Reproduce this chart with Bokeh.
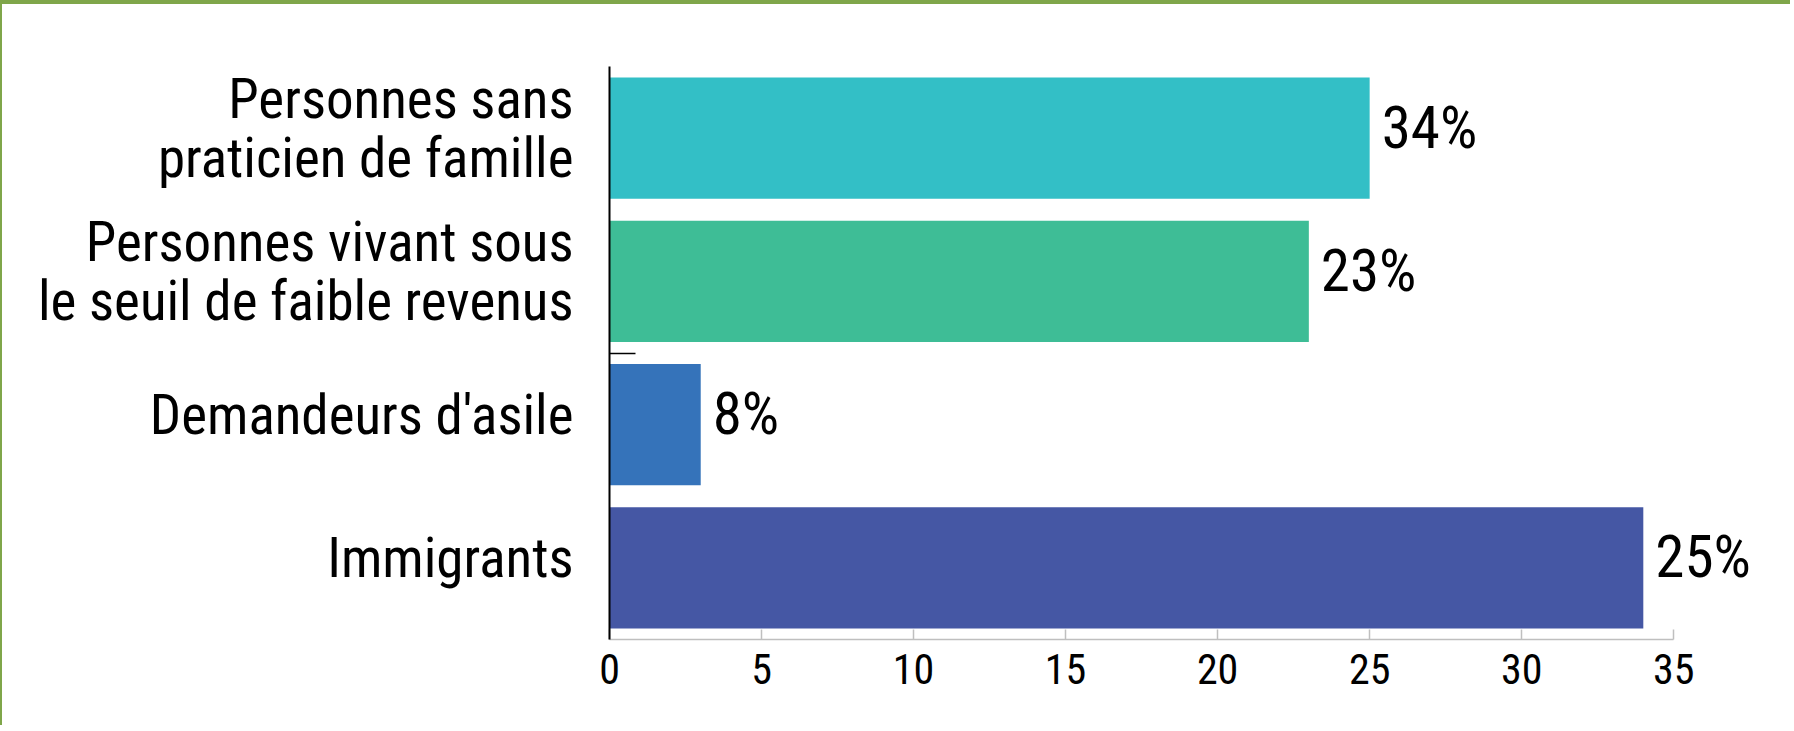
from bokeh.plotting import figure
from bokeh.models import FixedTicker, Range1d, ColumnDataSource, LabelSet
from bokeh.core.properties import value
from bokeh.embed import file_html
from bokeh.resources import INLINE

# ---- data (top to bottom as displayed) ----
categories = [
    "Personnes sans\npraticien de famille",
    "Personnes vivant sous\nle seuil de faible revenus",
    "Demandeurs d'asile",
    "Immigrants",
]
values = [25, 23, 3, 34]
value_labels = ["34%", "23%", "8%", "25%"]
colors = ["#33BFC6", "#3EBD96", "#3573BA", "#4557A4"]
x_ticks = [0, 5, 10, 15, 20, 25, 30, 35]

FONT = "'Roboto Condensed', 'Liberation Sans Narrow', 'Arial Narrow', sans-serif"

n = len(categories)
ypos = [n - 1 - i + 0.5 for i in range(n)]
boundaries = [2]  # small tick between 2nd and 3rd category (from bottom)
LABEL_SHIFT = 0.07  # category labels sit slightly above bar centres
label_pos = [y + LABEL_SHIFT for y in ypos]

src = ColumnDataSource(dict(y=ypos, v=values, lab=value_labels, c=colors))

p = figure(
    width=1790, height=725,
    x_range=Range1d(0, 37.92), y_range=Range1d(0, n),
    output_backend="svg", toolbar_location=None,
    min_border_left=607, min_border_top=62, min_border_bottom=90, min_border_right=30,
    outline_line_color=None,
    styles={"border-top": "4px solid #7FA64A", "border-left": "2px solid #7FA64A"},
)

p.hbar(y="y", right="v", left=0, height=0.845, fill_color="c", line_color=None, source=src)

labels = LabelSet(x="v", y="y", text="lab", source=src, x_offset=12, y_offset=11,
                  text_baseline="middle", text_align="left",
                  text_font=value(FONT), text_font_size="59px", text_color="#000000")
p.add_layout(labels)

p.xgrid.grid_line_color = None
p.ygrid.grid_line_color = None

# x axis
xa = p.xaxis[0]
xa.ticker = FixedTicker(ticks=x_ticks, minor_ticks=[])
xa.bounds = (0, 35)
xa.axis_line_color = "#BFBFBF"
xa.axis_line_width = 1.5
xa.major_tick_line_color = "#BFBFBF"
xa.major_tick_line_width = 1.5
xa.major_tick_in = 10
xa.major_tick_out = 0
xa.minor_tick_line_color = None
xa.major_label_text_font = FONT
xa.major_label_text_font_size = "42px"
xa.major_label_text_color = "#000000"
xa.major_label_standoff = 14

# y axis
ya = p.yaxis[0]
ya.ticker = FixedTicker(ticks=label_pos, minor_ticks=boundaries)
ya.major_label_overrides = {y: c for y, c in zip(label_pos, categories)}
ya.axis_line_color = "#000000"
ya.axis_line_width = 2
ya.major_tick_line_color = None
ya.minor_tick_line_color = "#000000"
ya.minor_tick_line_width = 1.5
ya.minor_tick_in = 26
ya.minor_tick_out = 0
ya.major_label_text_font = FONT
ya.major_label_text_font_size = "55px"
ya.major_label_text_color = "#000000"
ya.major_label_text_line_height = 0.92
ya.major_label_standoff = 30

open("out.html", "w").write(file_html(p, INLINE))
